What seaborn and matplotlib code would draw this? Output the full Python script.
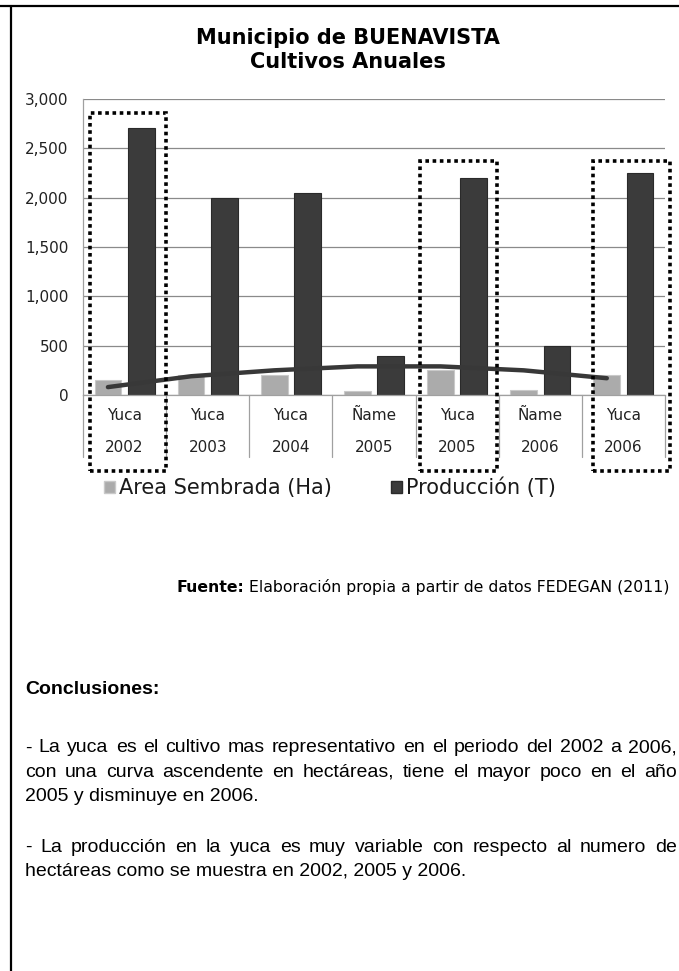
import pandas as pd
import numpy as np
import matplotlib
matplotlib.use('Agg')
import matplotlib.pyplot as plt
import matplotlib.transforms as mtransforms
from matplotlib.patches import Rectangle, Patch
from matplotlib.lines import Line2D
import seaborn as sns

# Datos
cultivos = ['Yuca', 'Yuca', 'Yuca', 'Ñame', 'Yuca', 'Ñame', 'Yuca']
anios = ['2002', '2003', '2004', '2005', '2005', '2006', '2006']
area_sembrada = [150, 200, 200, 40, 250, 50, 200]
produccion = [2710, 2000, 2050, 400, 2200, 500, 2250]
tendencia_area = [80, 190, 250, 290, 290, 250, 170]
yticks = [0, 500, 1000, 1500, 2000, 2500, 3000]
series = ['Area Sembrada (Ha)', 'Producción (T)']
destacados = [0, 4, 6]  # categorias con recuadro punteado

lineas_conclusion = [
    ("- La yuca es el cultivo mas representativo en el periodo del 2002 a 2006,", True),
    ("con una curva ascendente en hectáreas, tiene el mayor poco en el año", True),
    ("2005 y disminuye en 2006.", False),
    ("- La producción en la yuca es muy variable con respecto al numero de", True),
    ("hectáreas como se muestra en 2002, 2005 y 2006.", False),
]

sns.set_theme(style='white')
plt.rcParams['font.family'] = ['DejaVu Sans']

W, H = 679, 971
fig = plt.figure(figsize=(W / 100, H / 100), dpi=100)
fig.patch.set_facecolor('white')

etiquetas = [f'{c}\n{a}' for c, a in zip(cultivos, anios)]
df = pd.DataFrame({
    'etiqueta': etiquetas * 2,
    'valor': area_sembrada + produccion,
    'serie': [series[0]] * len(etiquetas) + [series[1]] * len(etiquetas),
})

colores = ['#ababab', '#3b3b3b']
ax = fig.add_axes([83 / W, 1 - 395 / H, 582 / W, 296 / H])
sns.barplot(data=df, x='etiqueta', y='valor', hue='serie', palette=colores,
            width=0.8, gap=0.2, ax=ax, legend=False, saturation=1)
for bar_patch in ax.patches:
    fc = bar_patch.get_facecolor()
    bar_patch.set_edgecolor('#c9c9c9' if fc[0] > 0.5 else '#2a2a2a')
    bar_patch.set_linewidth(0.8)

# Linea de tendencia (area sembrada)
xpos = np.arange(len(etiquetas)) - 0.2
ax.plot(xpos, tendencia_area, color='#383838', lw=3.2, solid_capstyle='round', zorder=5)

ax.set_ylim(0, 3000)
ax.set_xlim(-0.5, len(etiquetas) - 0.5)
ax.set_yticks(yticks)
ax.set_yticklabels([f'{v:,}' for v in yticks], fontsize=11, color='#222222')
ax.tick_params(axis='y', length=0, pad=10.5)
ax.tick_params(axis='x', length=0, labelbottom=False)
ax.set_xlabel('')
ax.set_ylabel('')
ax.grid(axis='y', color='#8a8a8a', lw=0.9)
ax.set_axisbelow(True)
for s in ['top', 'right']:
    ax.spines[s].set_visible(False)
for s in ['left', 'bottom']:
    ax.spines[s].set_color('#a0a0a0')
    ax.spines[s].set_linewidth(0.9)

# Etiquetas de categoria y separadores
trans = mtransforms.blended_transform_factory(ax.transData, ax.transAxes)
for i, (c, a) in enumerate(zip(cultivos, anios)):
    ax.text(i, -20 / 296, c, transform=trans, ha='center', va='center', fontsize=11, color='#222222')
    ax.text(i, -52 / 296, a, transform=trans, ha='center', va='center', fontsize=11, color='#222222')
for k in range(len(etiquetas) + 1):
    ax.plot([k - 0.5, k - 0.5], [0, -62 / 296], transform=trans, color='#a0a0a0',
            lw=0.9, clip_on=False)

# Recuadros punteados
offsets = {0: (-0.42, 0.50, 2860), 4: (-0.45, 0.48, 2370), 6: (-0.37, 0.56, 2370)}
for i in destacados:
    x0, x1, top = offsets[i]
    ax.add_patch(Rectangle((i + x0, -770), x1 - x0, top + 770, fill=False,
                           ec='black', lw=2.6, ls=(0, (1, 1)), clip_on=False, zorder=6))

# Titulo
fig.text(0.512, 1 - 38 / H, 'Municipio de BUENAVISTA', ha='center', va='center',
         fontsize=15, fontweight='bold', color='black')
fig.text(0.512, 1 - 62 / H, 'Cultivos Anuales', ha='center', va='center',
         fontsize=15, fontweight='bold', color='black')

# Leyenda
handles = [Patch(facecolor=colores[0], edgecolor='#c9c9c9'),
           Patch(facecolor=colores[1], edgecolor='#2a2a2a')]
fig.legend(handles, series, loc='center', bbox_to_anchor=(330 / W, 1 - 488 / H),
           ncol=2, frameon=False, fontsize=15, handlelength=0.55, handleheight=0.55,
           handletextpad=0.2, columnspacing=2.8, labelcolor='#1a1a1a')

renderer = fig.canvas.get_renderer()

# Fuente
t_rest = fig.text(670 / W, 1 - 587 / H, ' Elaboración propia a partir de datos FEDEGAN (2011)',
                  ha='right', va='center', fontsize=11.3, color='black')
bb = t_rest.get_window_extent(renderer)
fig.text(bb.x0 / W, 1 - 587 / H, 'Fuente:', ha='right', va='center', fontsize=11.3,
         fontweight='bold', color='black')

# Conclusiones
fuente_txt = ['Liberation Sans', 'DejaVu Sans']
fs = 14
fig.text(25 / W, 1 - 690 / H, 'Conclusiones:', ha='left', va='center', fontsize=fs,
         fontweight='bold', family=fuente_txt, color='black')

ys = [748, 772, 796, 847, 871]
right_edge = [677, 677, None, 677, None]
for (linea, justificar), y, xr in zip(lineas_conclusion, ys, right_edge):
    if not justificar:
        fig.text(25 / W, 1 - y / H, linea, ha='left', va='center', fontsize=fs,
                 family=fuente_txt, color='black')
        continue
    palabras = linea.split(' ')
    objs = [fig.text(0, 1 - y / H, p, ha='left', va='center', fontsize=fs,
                     family=fuente_txt, color='black') for p in palabras]
    anchos = [o.get_window_extent(renderer).width for o in objs]
    hueco = (xr - 25 - sum(anchos)) / (len(palabras) - 1)
    x = 25
    for o, w in zip(objs, anchos):
        o.set_x(x / W)
        x += w + hueco

# Bordes de la pagina
fig.add_artist(Line2D([0, 1], [1 - 6 / H, 1 - 6 / H], color='black', lw=1.6))
fig.add_artist(Line2D([10.5 / W, 10.5 / W], [0, 1 - 6 / H], color='black', lw=1.6))

fig.savefig('out.png', dpi=100)
